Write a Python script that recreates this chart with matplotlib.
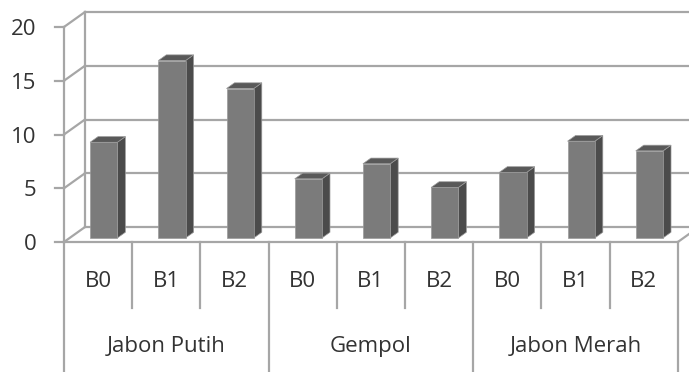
import matplotlib
matplotlib.use('Agg')
import matplotlib.pyplot as plt
from matplotlib.patches import Polygon

# data: three groups, three treatments each
groups = ['Jabon Putih', 'Gempol', 'Jabon Merah']
treatments = ['B0', 'B1', 'B2']
jabon_putih = [8.9, 16.5, 13.9]
gempol = [5.5, 6.9, 4.7]
jabon_merah = [6.1, 9.0, 8.1]
y_ticks = [0, 5, 10, 15, 20]

values = jabon_putih + gempol + jabon_merah
n = len(values)

# oblique "3D" look: depth offset in data units
DX, DY = 0.308, 1.395
F0 = 0.27        # depth where bar fronts sit
BD = 0.38        # bar depth (fraction of wall depth)
BW = 0.40        # bar width

grid_c = '#a6a6a6'
text_c = '#333333'
front_c, side_c, top_c = '#7b7b7b', '#4b4b4b', '#595959'

plt.rcParams['font.family'] = ['Open Sans', 'DejaVu Sans']
FS = 16

fig = plt.figure(figsize=(6.89, 3.72), dpi=100)
ax = fig.add_axes([0, 0, 1, 1])
ax.set_xlim(-0.938, 9.164)
ax.set_ylim(-12.09, 22.51)
ax.axis('off')

lw = 1.6
ymax = y_ticks[-1]

# back wall gridlines + side wall diagonals
for v in y_ticks:
    ax.plot([DX, n + DX + 1], [v + DY, v + DY], color=grid_c, lw=lw, zorder=1)
    ax.plot([0, DX], [v, v + DY], color=grid_c, lw=lw, zorder=1)
    ax.plot([-0.13, 0], [v, v], color=grid_c, lw=lw, zorder=1)
    ax.text(-0.40, v - 0.25, str(v), ha='right', va='center', fontsize=FS, color=text_c)
ax.plot([DX, DX], [DY, ymax + DY], color=grid_c, lw=lw, zorder=1)
ax.plot([0, 0], [0, ymax], color=grid_c, lw=lw, zorder=1)

# floor edges
ax.plot([0, n], [0, 0], color=grid_c, lw=lw, zorder=1)
ax.plot([n, n + DX], [0, DY], color=grid_c, lw=lw, zorder=1)

# bars
bar_scale_x, bar_scale_y = BD * DX, BD * DY
for i, v in enumerate(values):
    x0 = i + 0.5 - BW / 2 + F0 * DX
    x1 = x0 + BW
    y0 = F0 * DY
    top = y0 + v
    front = [(x0, y0), (x1, y0), (x1, top), (x0, top)]
    side = [(x1, y0), (x1 + bar_scale_x, y0 + bar_scale_y),
            (x1 + bar_scale_x, top + bar_scale_y), (x1, top)]
    cap = [(x0, top), (x1, top), (x1 + bar_scale_x, top + bar_scale_y),
           (x0 + bar_scale_x, top + bar_scale_y)]
    for pts, c in [(side, side_c), (cap, top_c), (front, front_c)]:
        ax.add_patch(Polygon(pts, closed=True, facecolor=c,
                             edgecolor='#9a9a9a', lw=0.5, zorder=3))

# category table below the floor
inner_bottom = -6.15
for i in range(n + 1):
    bottom = -12.2 if i % len(treatments) == 0 else inner_bottom
    ax.plot([i, i], [0, bottom], color=grid_c, lw=lw, zorder=1)

for i in range(n):
    ax.text(i + 0.5, -3.7, treatments[i % len(treatments)], ha='center',
            va='center', fontsize=FS, color=text_c)
for g, name in enumerate(groups):
    ax.text(g * 3 + 1.5, -9.7, name, ha='center', va='center',
            fontsize=FS, color=text_c)

plt.savefig('out.png', dpi=100)
plt.close()
